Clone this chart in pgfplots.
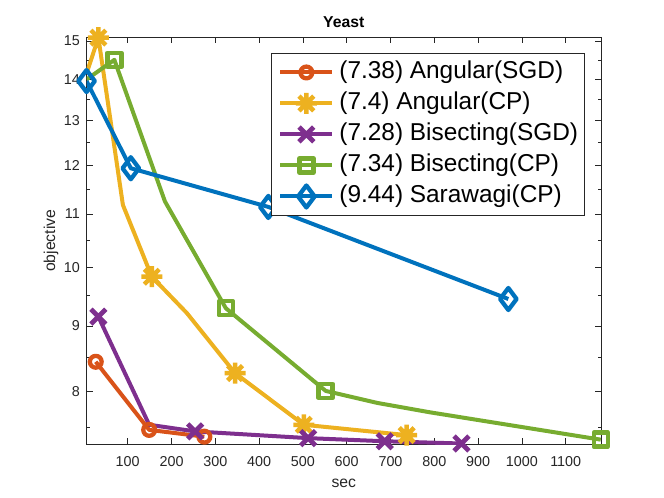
\documentclass[border=0pt]{standalone}
\usepackage{pgfplots}
\pgfplotsset{compat=1.18}
\usepackage{fontspec}
\setmainfont{Liberation Sans}
\definecolor{mOrange}{rgb}{0.850,0.325,0.098}
\definecolor{mYellow}{rgb}{0.929,0.694,0.125}
\definecolor{mPurple}{rgb}{0.494,0.184,0.556}
\definecolor{mGreen}{rgb}{0.466,0.674,0.188}
\definecolor{mBlue}{rgb}{0.000,0.447,0.741}
\definecolor{axgray}{rgb}{0.15,0.15,0.15}
\pgfdeclareplotmark{mstar}{%
  \pgfpathmoveto{\pgfqpoint{-\pgfplotmarksize}{0pt}}\pgfpathlineto{\pgfqpoint{\pgfplotmarksize}{0pt}}%
  \pgfpathmoveto{\pgfqpoint{0pt}{-\pgfplotmarksize}}\pgfpathlineto{\pgfqpoint{0pt}{\pgfplotmarksize}}%
  \pgfpathmoveto{\pgfqpoint{-.7071\pgfplotmarksize}{-.7071\pgfplotmarksize}}\pgfpathlineto{\pgfqpoint{.7071\pgfplotmarksize}{.7071\pgfplotmarksize}}%
  \pgfpathmoveto{\pgfqpoint{-.7071\pgfplotmarksize}{.7071\pgfplotmarksize}}\pgfpathlineto{\pgfqpoint{.7071\pgfplotmarksize}{-.7071\pgfplotmarksize}}%
  \pgfusepathqstroke}
\begin{document}
\begin{tikzpicture}[x=1bp,y=1bp]
\useasboundingbox (0,0) rectangle (664,498);
\begin{axis}[
  at={(86.5bp,53.7bp)}, anchor=south west,
  scale only axis, width=514.5bp, height=407bp,
  xmin=5.9, xmax=1180.6,
  ymode=log, ymin=7.28, ymax=15.1,
  xtick={100,200,...,1100},
  ytick={8,9,10,11,12,13,14,15},
  yticklabels={8,9,10,11,12,13,14,15},
  minor ytick={7.5,8.5,9.5,10.5,11.5,12.5,13.5,14.5},
  /pgf/number format/1000 sep={},
  /pgf/number format/assume math mode=true,
  tick align=inside,
  major tick length=6bp, minor tick length=3.5bp,
  every tick/.style={axgray, line width=0.7bp},
  axis line style={axgray, line width=0.8bp},
  ticklabel style={font=\fontsize{14.4}{16}\selectfont, text=axgray},
  xticklabel style={anchor=base, yshift=-22.4bp, inner sep=0pt},
  yticklabel style={anchor=east, xshift=-6.5bp, inner sep=0pt},
  title={\textbf{Yeast}},
  title style={at={(axis description cs:0.5,1.009)}, anchor=base, font=\fontsize{15.8}{18}\selectfont, inner sep=0pt},
  xlabel={sec},
  xlabel style={at={(axis description cs:0.5,-0.1074)}, anchor=base, font=\fontsize{15.8}{18}\selectfont, text=axgray, inner sep=0pt},
  ylabel={objective},
  ylabel style={at={(axis description cs:-0.0612,0.5)}, anchor=base, rotate=0, font=\fontsize{15.8}{18}\selectfont, text=axgray, inner sep=0pt},
  legend style={at={(axis description cs:0.9689,0.9607)}, anchor=north east,
    draw=axgray, line width=0.8bp, fill=white,
    font=\fontsize{24.5}{28}\selectfont,
    inner xsep=6.5bp, inner ysep=6.3bp, row sep=6bp, column sep=5bp,
    nodes={inner sep=0pt, text height=19bp, text depth=6bp}},
  legend cell align=left,
  legend image code/.code={\draw[#1, mark indices={2}] plot coordinates {(0bp,0bp) (26bp,0bp) (52bp,0bp)};},
  every axis plot/.append style={line width=4bp, line join=round},
  clip marker paths=false,
]
\addplot[color=mOrange, mark=o, mark size=5.9bp, mark options={solid, line width=4.3bp}]
  coordinates {(27,8.44) (149,7.47) (275,7.38)};
\addlegendentry{(7.38) Angular(SGD)}
\addplot[color=mYellow, mark=mstar, mark size=10.5bp, mark options={solid, line width=4.5bp}, mark indices={2,4,6,7,8}]
  coordinates {(6,14.15) (33,15.09) (89,11.18) (155,9.83) (235,9.21) (345,8.27) (502,7.54) (737,7.40)};
\addlegendentry{(7.4) Angular(CP)}
\addplot[color=mPurple, mark=x, mark size=10.5bp, mark options={solid, line width=4.8bp}, mark indices={1,3,4,5,6}]
  coordinates {(33,9.15) (149,7.54) (254,7.45) (512,7.36) (687,7.32) (862,7.29)};
\addlegendentry{(7.28) Bisecting(SGD)}
\addplot[color=mGreen, mark=square, mark size=7bp, mark options={solid, line width=4.5bp}, mark indices={2,4,5,8}]
  coordinates {(6,14.0) (69.5,14.50) (185,11.25) (324,9.29) (552,8.01) (670,7.84) (790,7.71) (1180,7.34)};
\addlegendentry{(7.34) Bisecting(CP)}
\addplot[color=mBlue, mark=diamond, mark size=11bp, mark options={solid, line width=4.3bp}]
  coordinates {(6,13.96) (107,11.94) (421,11.14) (969,9.445)};
\addlegendentry{(9.44) Sarawagi(CP)}
\end{axis}
\end{tikzpicture}
\end{document}
